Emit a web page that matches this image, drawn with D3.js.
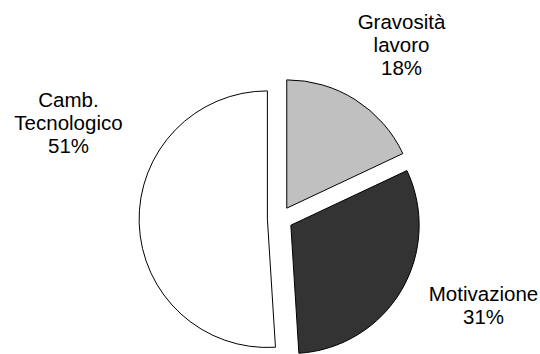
<!DOCTYPE html>
<html>
<head>
<meta charset="utf-8">
<script src="https://cdn.jsdelivr.net/npm/d3@7/dist/d3.min.js"></script>
<style>
  html, body { margin: 0; padding: 0; background: #fff; }
  svg { display: block; }
  text { font-family: "Liberation Sans", Arial, sans-serif; font-size: 20.5px; fill: #000; }
</style>
</head>
<body>
<svg id="chart" width="540" height="354"></svg>
<script>
// Slice data, clockwise from 12 o'clock
const categories = ["Gravosità lavoro", "Motivazione", "Camb. Tecnologico"];
const labelLines = [["Gravosità", "lavoro"], ["Motivazione"], ["Camb.", "Tecnologico"]];
const values = [18, 31, 51];
const colors = ["#c0c0c0", "#333333", "#ffffff"];

// Layout
const W = 540, H = 354;
const cx = 280, cy = 218.8, radius = 128.3, explode = 12.6;
const lineGap = 23.3;
// first-baseline anchor of each label block
const labelAnchors = [[401.5, 28.5], [483.5, 300.5], [68.5, 106.5]];

const svg = d3.select("#chart");
const g = svg.append("g").attr("transform", `translate(${cx},${cy})`);

const total = d3.sum(values);
const pie = d3.pie().sort(null).value(d => d.value);
const arcs = pie(categories.map((c, i) => ({ name: c, value: values[i], i })));
const arc = d3.arc().innerRadius(0).outerRadius(radius);

g.selectAll("path.slice")
  .data(arcs)
  .join("path")
  .attr("class", "slice")
  .attr("transform", d => {
    const a = (d.startAngle + d.endAngle) / 2;
    return `translate(${explode * Math.sin(a)},${-explode * Math.cos(a)})`;
  })
  .attr("d", arc)
  .attr("fill", d => colors[d.data.i])
  .attr("stroke", "#000")
  .attr("stroke-width", 1)
  .attr("stroke-linejoin", "miter");

const labels = svg.selectAll("text.lbl")
  .data(arcs)
  .join("text")
  .attr("class", "lbl")
  .attr("text-anchor", "middle")
  .attr("x", d => labelAnchors[d.data.i][0])
  .attr("y", d => labelAnchors[d.data.i][1]);

labels.each(function(d) {
  const t = d3.select(this);
  const [x] = labelAnchors[d.data.i];
  const lines = labelLines[d.data.i].concat([Math.round(d.data.value / total * 100) + "%"]);
  lines.forEach((s, k) => {
    t.append("tspan").attr("x", x).attr("dy", k === 0 ? 0 : lineGap).text(s);
  });
});
</script>
</body>
</html>
